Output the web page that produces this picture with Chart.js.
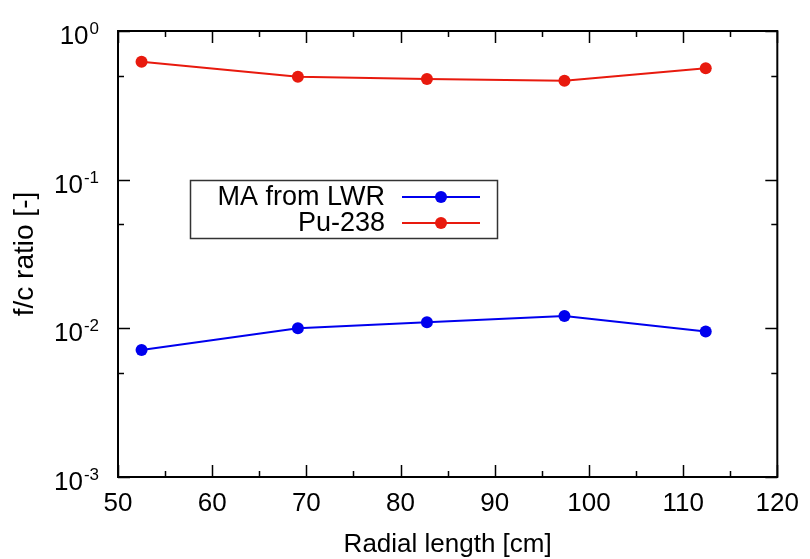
<!DOCTYPE html>
<html>
<head>
<meta charset="utf-8">
<script src="https://cdn.jsdelivr.net/npm/chart.js@4/dist/chart.umd.min.js"></script>
<style>
  html, body { margin: 0; padding: 0; background: #fff; }
  canvas { display: block; }
</style>
</head>
<body>
<canvas id="fc" width="810" height="559"></canvas>
<script>
// radial positions [cm] and f/c ratios
const radialLength = [52.5, 69.1, 82.8, 97.4, 112.4];
const maFromLwr = [0.00716, 0.0100, 0.0110, 0.0121, 0.00951];
const pu238 = [0.622, 0.493, 0.475, 0.463, 0.561];

const xTicks = [50, 60, 70, 80, 90, 100, 110, 120];
const xMinorTicks = [55, 65, 75, 85, 95, 105, 115];
const yDecades = [0, -1, -2, -3];
const yMinorTicks = [0.5, 0.05, 0.005];

const FONT = '"Liberation Sans", Arial, Helvetica, sans-serif';
const BLUE = '#0000ee';
const RED = '#e81a0e';

const pts = (ys) => radialLength.map((x, i) => ({ x, y: ys[i] }));

// gnuplot-ish frame: border, inward ticks on all sides, 10^n labels, titles, boxed key
const frame = {
  id: 'frame',
  beforeDatasetsDraw(chart) {
    const { ctx, chartArea: a, scales: { x, y } } = chart;
    ctx.save();
    ctx.strokeStyle = '#000';
    ctx.lineWidth = 1.5;
    ctx.beginPath();
    const xt = (v, len) => {
      const px = Math.round(x.getPixelForValue(v)) + 0.5;
      ctx.moveTo(px, a.bottom); ctx.lineTo(px, a.bottom - len);
      ctx.moveTo(px, a.top); ctx.lineTo(px, a.top + len);
    };
    const yt = (v, len) => {
      const py = Math.round(y.getPixelForValue(v)) + 0.5;
      ctx.moveTo(a.left, py); ctx.lineTo(a.left + len, py);
      ctx.moveTo(a.right, py); ctx.lineTo(a.right - len, py);
    };
    xTicks.forEach((v) => xt(v, 12));
    xMinorTicks.forEach((v) => xt(v, 6));
    yDecades.forEach((d) => yt(Math.pow(10, d), 12));
    yMinorTicks.forEach((v) => yt(v, 6));
    ctx.stroke();
    ctx.lineWidth = 2;
    ctx.strokeRect(a.left, a.top, a.right - a.left, a.bottom - a.top);

    // y tick labels with superscript exponents, right-aligned as a whole
    ctx.fillStyle = '#000';
    ctx.textBaseline = 'alphabetic';
    ctx.textAlign = 'left';
    yDecades.forEach((d) => {
      const py = y.getPixelForValue(Math.pow(10, d));
      ctx.font = '17px ' + FONT;
      const ew = ctx.measureText(String(d)).width;
      ctx.fillText(String(d), 99 - ew, py + 3);
      ctx.font = '26px ' + FONT;
      const bw = ctx.measureText('10').width;
      ctx.fillText('10', 99 - ew - 1 - bw, py + 13);
    });

    // axis titles
    ctx.textAlign = 'center';
    ctx.textBaseline = 'middle';
    ctx.font = '26px ' + FONT;
    ctx.fillText('Radial length [cm]', (a.left + a.right) / 2, 545);
    ctx.font = '28px ' + FONT;
    ctx.translate(25, (a.top + a.bottom) / 2);
    ctx.rotate(-Math.PI / 2);
    ctx.fillText('f/c ratio [-]', 0, 0);
    ctx.restore();
  },
  afterDraw(chart) {
    const { ctx } = chart;
    ctx.save();
    ctx.strokeStyle = '#333';
    ctx.lineWidth = 1.5;
    ctx.strokeRect(190.5, 180.5, 307, 58);
    const rows = [['MA from LWR', BLUE, 197], ['Pu-238', RED, 223]];
    rows.forEach(([label, col, ry]) => {
      ctx.fillStyle = '#000';
      ctx.font = '27px ' + FONT;
      ctx.textAlign = 'right';
      ctx.textBaseline = 'middle';
      ctx.fillText(label, 385, ry + 1);
      ctx.strokeStyle = col;
      ctx.lineWidth = 2;
      ctx.beginPath();
      ctx.moveTo(402, ry); ctx.lineTo(480, ry);
      ctx.stroke();
      ctx.fillStyle = col;
      ctx.beginPath();
      ctx.arc(441, ry, 6, 0, Math.PI * 2);
      ctx.fill();
    });
    ctx.restore();
  },
};

new Chart(document.getElementById('fc').getContext('2d'), {
  type: 'line',
  data: {
    datasets: [
      { label: 'MA from LWR', data: pts(maFromLwr), borderColor: BLUE, backgroundColor: BLUE, borderWidth: 2, pointRadius: 6, pointBorderWidth: 0, tension: 0 },
      { label: 'Pu-238', data: pts(pu238), borderColor: RED, backgroundColor: RED, borderWidth: 2, pointRadius: 6, pointBorderWidth: 0, tension: 0 },
    ],
  },
  options: {
    responsive: false,
    devicePixelRatio: 1,
    animation: false,
    layout: { padding: { left: 0, top: 31, right: 31, bottom: 0 } },
    plugins: { legend: { display: false }, tooltip: { enabled: false } },
    scales: {
      x: {
        type: 'linear', min: 50, max: 120,
        grid: { display: false, drawTicks: false },
        border: { display: false },
        ticks: { stepSize: 10, padding: 11, color: '#000', font: { family: FONT, size: 26 }, maxRotation: 0 },
        afterFit: (s) => { s.height = 82; },
      },
      y: {
        type: 'logarithmic', min: 0.001, max: 1,
        grid: { display: false, drawTicks: false },
        border: { display: false },
        ticks: { display: false },
        afterFit: (s) => { s.width = 118; },
      },
    },
  },
  plugins: [frame],
});
</script>
</body>
</html>
